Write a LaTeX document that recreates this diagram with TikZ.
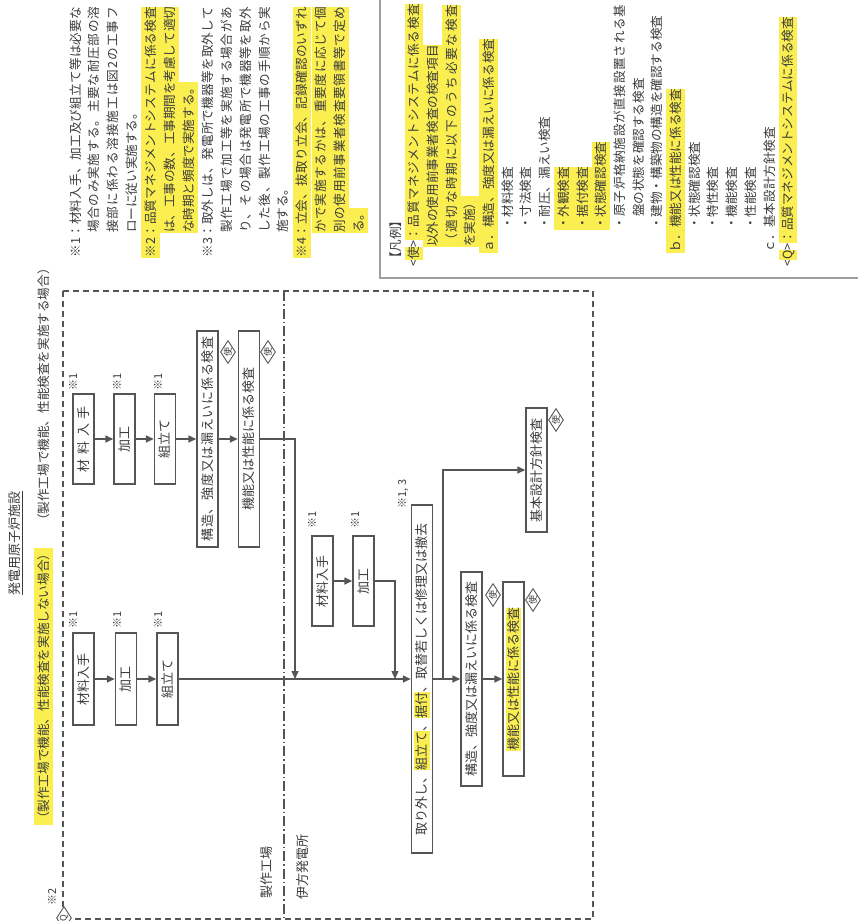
\documentclass[tikz,border=0pt]{standalone}
\usepackage{fontspec}
\setmainfont{Noto Sans CJK JP}
\usetikzlibrary{arrows.meta,shapes.geometric}
\definecolor{hl}{RGB}{250,238,80}
\definecolor{txt}{RGB}{60,60,60}
\definecolor{ln}{RGB}{85,85,85}
\newcommand\hlb[1]{{\setlength{\fboxsep}{0pt}\colorbox{hl}{\rule[-3.2pt]{0pt}{15.5pt}#1}}}
\newcommand\hll[1]{{\setlength{\fboxsep}{0pt}\colorbox{hl}{\rule[-4.5pt]{0pt}{18.7pt}#1}}}
\makeatletter
\def\jl@end{\jl@end}
\newcommand\jl[2]{\makebox[#1pt][s]{\jl@first#2\jl@end}}
\def\jl@first#1{#1\jl@loop}
\def\jl@loop#1{\ifx#1\jl@end\else\hskip 0pt plus 1fil minus 1pt\relax#1\expandafter\jl@loop\fi}
\makeatother
\begin{document}
\begin{tikzpicture}[x=1pt,y=-1pt,
  every node/.style={text=txt},
  bx/.style={draw=ln, line width=1.4pt, fill=white, rotate=90, inner sep=0pt, minimum height=21pt, font=\fontsize{13}{15}\selectfont},
  cn/.style={draw=ln, line width=1.4pt, -{Triangle[length=8pt,width=7pt]}},
  note/.style={rotate=90, anchor=base west, inner sep=0pt, font=\fontsize{12.6}{15}\selectfont},
  hf/.style={fill=hl, text height=14.2pt, text depth=4.5pt},
  mk/.style={diamond, draw=ln, line width=0.9pt, fill=white, inner sep=0pt, aspect=1.5, rotate=90, minimum width=23pt, minimum height=15pt, font=\fontsize{9}{9}\selectfont},
  ast/.style={rotate=90, inner sep=0pt, font=\fontsize{11}{11}\selectfont},
  lab/.style={rotate=90, inner sep=0pt, font=\fontsize{13}{15}\selectfont}
]
\useasboundingbox (0,0) rectangle (857,921);
\fill[white] (0,0) rectangle (857,921);

% ---------- notes ----------
\node[note] (n1) at (80,258) {\jl{251}{※1：材料入手、加工及び組立て等は必要な}};
\node[note] (n2) at (98.9,233) {\jl{226}{場合のみ実施する。主要な耐圧部の溶}};
\node[note] (n3) at (117.8,233) {\jl{226}{接部に係わる溶接施工は図2の工事フ}};
\node[note] (n4) at (136.7,233) {ローに従い実施する。};
\node[note,hf] (n5) at (155.6,258) {\jl{251}{※2：品質マネジメントシステムに係る検査}};
\node[note,hf] (n6) at (174.5,233) {\jl{226}{は、工事の数、工事期間を考慮して適切}};
\node[note,hf] (n7) at (193.4,233) {な時期と頻度で実施する。};
\node[note] (n8) at (212.3,258) {\jl{251}{※3：取外しは、発電所で機器等を取外して}};
\node[note] (n9) at (231.2,233) {\jl{226}{製作工場で加工等を実施する場合があ}};
\node[note] (n10) at (250.1,233) {\jl{226}{り、その場合は発電所で機器等を取外}};
\node[note] (n11) at (269,233) {\jl{226}{した後、製作工場の工事の手順から実}};
\node[note] (n12) at (287.9,233) {施する。};
\node[note,hf] (n13) at (306.8,258) {\jl{251}{※4：立会、抜取り立会、記録確認のいずれ}};
\node[note,hf] (n14) at (325.7,233) {\jl{226}{かで実施するかは、重要度に応じて個}};
\node[note,hf] (n15) at (344.6,233) {\jl{226}{別の使用前事業者検査要領書等で定め}};
\node[note,hf] (n16) at (363.5,233) {る。};

% ---------- legend ----------
\draw[draw=gray!75, line width=1.3pt] (380,-5) -- (380,278) -- (862,278);
\node[note] (g0) at (400,265) {【凡例】};
\node[note] (g1) at (418.7,267) {<\hll{使}>\hll{\jl{236}{：品質マネジメントシステムに係る検査}}};
\node[note,hf] (g2) at (437.4,247) {以外の使用前事業者検査の検査項目};
\node[note,hf] (g3) at (456.1,247) {\jl{242}{（適切な時期に以下のうち必要な検査}};
\node[note,hf] (g4) at (474.8,247) {を実施）};
\node[note,hf] (g5) at (493.5,253) {ａ．構造、強度又は漏えいに係る検査};
\node[note] (g6) at (512.2,230) {・材料検査};
\node[note] (g7) at (530.9,230) {・寸法検査};
\node[note] (g8) at (549.6,230) {・耐圧、漏えい検査};
\node[note,hf] (g9) at (568.3,230) {・外観検査};
\node[note,hf] (g10) at (587,230) {・据付検査};
\node[note,hf] (g11) at (605.7,230) {・状態確認検査};
\node[note] (g12) at (624.4,230) {\jl{225}{・原子炉格納施設が直接設置される基}};
\node[note] (g13) at (643.1,217) {盤の状態を確認する検査};
\node[note] (g14) at (661.8,230) {・建物・構築物の構造を確認する検査};
\node[note,hf] (g15) at (680.5,253) {ｂ．機能又は性能に係る検査};
\node[note] (g16) at (699.2,230) {・状態確認検査};
\node[note] (g17) at (717.9,230) {・特性検査};
\node[note] (g18) at (736.6,230) {・機能検査};
\node[note] (g19) at (755.3,230) {・性能検査};
\node[note] (g20) at (774,253) {ｃ．基本設計方針検査};
\node[note] (g21) at (792.7,267) {<\hll{Q}>\hll{：品質マネジメントシステムに係る検査}};

% ---------- title ----------
\node[lab] (title) at (15,543) {発電用原子炉施設};
\draw[draw=txt, line width=0.9pt] ([xshift=1pt]title.south west) -- ([xshift=1pt]title.south east);
\node[note,hf] (sub1) at (48,825) {（製作工場で機能、性能検査を実施しない場合）};
\node[note] (sub2) at (48,527) {（製作工場で機能、性能検査を実施する場合）};

% ---------- frames ----------
\draw[draw=ln, line width=1.2pt, dash pattern=on 6pt off 4pt] (63,291) rectangle (593,919);
\draw[draw=ln, line width=1.1pt, dash pattern=on 10pt off 3pt on 1.5pt off 3pt] (284,291) -- (284,919);
\node[lab] (fac) at (267,872) {製作工場};
\node[lab] (ikata) at (303,867) {伊方発電所};
\node[ast] (s2) at (52,897) {※2};
\node[mk] (q0) at (64,918) {Q};

% ---------- upper chain (factory, tests performed) ----------
\node[bx, minimum width=90pt] (A1) at (83.5,439) {\jl{66}{材料入手}};
\node[bx, minimum width=90pt] (A2) at (124.5,439) {加工};
\node[bx, minimum width=90pt] (A3) at (165,439) {組立て};
\node[bx, minimum width=216pt] (A4) at (207.5,439) {\jl{205}{構造、強度又は漏えいに係る検査}};
\node[bx, minimum width=216pt] (A5) at (249,439) {機能又は性能に係る検査};
\node[ast] (sa1) at (73,382) {※1};
\node[ast] (sa2) at (117,382) {※1};
\node[ast] (sa3) at (158,382) {※1};
\node[mk] (da4) at (228,352) {使};
\node[mk] (da5) at (268,352) {使};

% ---------- lower chain (factory, tests not performed) ----------
\node[bx, minimum width=92pt] (B1) at (83.5,679) {材料入手};
\node[bx, minimum width=92pt] (B2) at (126,679) {加工};
\node[bx, minimum width=92pt] (B3) at (167.5,679) {組立て};
\node[ast] (sb1) at (73,620) {※1};
\node[ast] (sb2) at (117,620) {※1};
\node[ast] (sb3) at (158,620) {※1};

% ---------- power station ----------
\node[bx, minimum width=90pt] (C1) at (322.5,581) {材料入手};
\node[bx, minimum width=90pt] (C2) at (363.5,581) {加工};
\node[ast] (sc1) at (312,520) {※1};
\node[ast] (sc2) at (355,520) {※1};
\node[bx, minimum width=348pt] (C3) at (422,679) {取り外し、\hlb{組立て}、\hlb{据付}、取替若しくは修理又は撤去};
\node[ast] (sc3) at (403,494) {※1, 3};
\node[bx, minimum width=214pt] (C4) at (471.5,679) {構造、強度又は漏えいに係る検査};
\node[bx, minimum width=194pt] (C5) at (513.5,679) {\hlb{機能又は性能に係る検査}};
\node[bx, minimum width=124pt] (C6) at (536.5,470) {基本設計方針検査};
\node[mk] (dc4) at (493,595) {使};
\node[mk] (dc5) at (533,600) {使};
\node[mk] (dc6) at (556,420) {使};

% ---------- connectors ----------
\draw[cn] (A1.south) -- (A2.north);
\draw[cn] (A2.south) -- (A3.north);
\draw[cn] (A3.south) -- (A4.north);
\draw[cn] (A4.south) -- (A5.north);
\coordinate (j1) at (295,679);
\draw[cn] (A5.south) -| (j1);

\draw[cn] (B1.south) -- (B2.north);
\draw[cn] (B2.south) -- (B3.north);
\draw[cn] (B3.south) -- (C3.north);

\draw[cn] (C1.south) -- (C2.north);
\coordinate (j2) at (395,679);
\draw[cn] (C2.south) -| (j2);

\draw[cn] (C3.south) -- (C4.north);
\coordinate (j3) at (443,679);
\draw[cn] (j3) |- (C6.north);
\draw[cn] (C4.south) -- (C5.north);
\end{tikzpicture}
\end{document}
